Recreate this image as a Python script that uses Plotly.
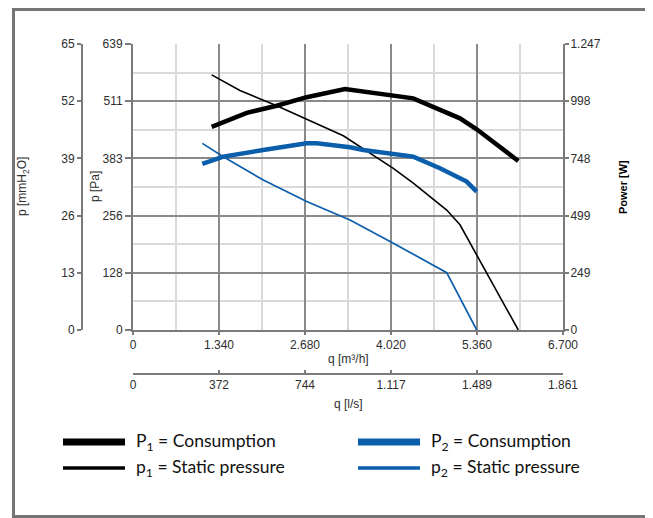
import plotly.graph_objects as go

# ---------------- data ----------------
# airflow q in m3/h
q_P1 = [1226, 1772, 2239, 2706, 3303, 4367, 5095, 5355, 6003]
power_P1 = [886, 947, 978, 1015, 1051, 1010, 923, 875, 737]          # W

q_p1 = [1226, 1667, 2239, 2706, 3277, 4056, 4367, 4888, 5095, 6003]
pressure_p1 = [570, 535, 501, 471, 434, 361, 328, 268, 235, 0]        # Pa

q_P2 = [1080, 1407, 2030, 2706, 2862, 3381, 3588, 4367, 4783, 5199, 5355]
power_P2 = [724, 756, 785, 814, 814, 797, 785, 756, 705, 647, 603]    # W

q_p2 = [1080, 1407, 2030, 2706, 3381, 4056, 4888, 5355]
pressure_p2 = [417, 387, 335, 287, 246, 194, 128, 0]                  # Pa

# axis ticks
q_m3h_max = 6700
q_m3h_ticks = [0, 1340, 2680, 4020, 5360, 6700]
q_m3h_text = ["0", "1.340", "2.680", "4.020", "5.360", "6.700"]
q_ls_max = 1861.1
q_ls_ticks = [0, 372.2, 744.4, 1116.7, 1488.9, 1861.1]
q_ls_text = ["0", "372", "744", "1.117", "1.489", "1.861"]
pa_max = 639
pa_ticks = [0, 127.8, 255.6, 383.4, 511.2, 639]
pa_text = ["0", "128", "256", "383", "511", "639"]
mm_max = 65
mm_ticks = [0, 13, 26, 39, 52, 65]
mm_text = ["0", "13", "26", "39", "52", "65"]
w_max = 1247
w_ticks = [0, 249.4, 498.8, 748.2, 997.6, 1247]
w_text = ["0", "249", "499", "748", "998", "1.247"]

# ---------------- layout geometry ----------------
# positions below are page pixels; the page body has an 8px margin
OFF = 8
FW, FH = 653 - OFF, 518 - OFF
L, R, T, B = 82 - OFF, 563 - OFF, 44 - OFF, 374 - OFF
PW, PH = R - L, B - T
X0 = 133 - OFF   # left edge of data area
Y0 = 330 - OFF   # bottom edge of data area


def fx(x):
    return (x - OFF - L) / PW


def fy(y):
    return (B - (y - OFF)) / PH


BLACK = "#000000"
BLUE = "#0b5eab"
AX = "#7a7a7a"
GRID_MAJ = "#8a8a8a"
GRID_MIN = "#dadada"
TXT = "#2e2e2e"
FONT = "Liberation Sans, Arial, sans-serif"

fig = go.Figure()
fig.add_trace(go.Scatter(x=q_p2, y=pressure_p2, mode="lines", xaxis="x", yaxis="y",
                         line=dict(color=BLUE, width=1.7), showlegend=False))
fig.add_trace(go.Scatter(x=q_p1, y=pressure_p1, mode="lines", xaxis="x", yaxis="y",
                         line=dict(color=BLACK, width=1.6), showlegend=False))
fig.add_trace(go.Scatter(x=q_P2, y=power_P2, mode="lines", xaxis="x", yaxis="y3",
                         line=dict(color=BLUE, width=4.5), showlegend=False))
fig.add_trace(go.Scatter(x=q_P1, y=power_P1, mode="lines", xaxis="x", yaxis="y3",
                         line=dict(color=BLACK, width=4.5), showlegend=False))
# carriers for the secondary scales
fig.add_trace(go.Scatter(x=[None], y=[None], xaxis="x2", yaxis="y", showlegend=False, hoverinfo="skip"))
fig.add_trace(go.Scatter(x=[None], y=[None], xaxis="x", yaxis="y2", showlegend=False, hoverinfo="skip"))

xdom = [(X0 - L) / PW, 1]
ydom = [(B - Y0) / PH, 1]
tickfont = dict(family=FONT, size=12, color=TXT)

common = dict(showline=True, linecolor=AX, linewidth=2, ticks="outside", ticklen=4,
              tickwidth=2, tickcolor=AX, zeroline=False, tickfont=tickfont, fixedrange=True)

fig.update_layout(
    width=FW, height=FH,
    margin=dict(l=L, r=FW - R, t=T, b=FH - B, pad=0),
    paper_bgcolor="white", plot_bgcolor="white",
    font=dict(family=FONT, size=11, color=TXT),
    showlegend=False,
    xaxis=dict(domain=xdom, anchor="y", range=[0, q_m3h_max], tickmode="array",
               tickvals=q_m3h_ticks, ticktext=q_m3h_text,
               showgrid=True, gridcolor=GRID_MAJ, gridwidth=1.5,
               minor=dict(tickvals=[670, 2010, 3350, 4690, 6030], showgrid=True,
                          gridcolor=GRID_MIN, gridwidth=1.5, ticks=""),
               **{**common, "ticklen": 3}),
    xaxis2=dict(domain=xdom, overlaying="x", anchor="free", position=0, side="bottom",
                range=[0, q_ls_max], tickmode="array", tickvals=q_ls_ticks, ticktext=q_ls_text,
                showgrid=False, **{**common, "ticks": "inside", "ticklen": 3}),
    yaxis=dict(domain=ydom, anchor="x", range=[0, pa_max], tickmode="array",
               tickvals=pa_ticks, ticktext=pa_text,
               showgrid=True, gridcolor=GRID_MAJ, gridwidth=1.5,
               minor=dict(tickvals=[63.9, 191.7, 319.5, 447.3, 575.1], showgrid=True,
                          gridcolor=GRID_MIN, gridwidth=1.5, ticks=""),
               **{**common, "ticklen": 6}),
    yaxis2=dict(overlaying="y", anchor="free", position=0, side="left",
                range=[0, mm_max], tickmode="array", tickvals=mm_ticks, ticktext=mm_text,
                showgrid=False, **common),
    yaxis3=dict(overlaying="y", anchor="x", side="right",
                range=[0, w_max], tickmode="array", tickvals=w_ticks, ticktext=w_text,
                showgrid=False, ticklabelstandoff=-1, **common),
)

ann = []


def text(x, y, s, size=11, angle=0, xanchor="center", color=TXT, family=FONT):
    ann.append(dict(x=fx(x), y=fy(y), xref="paper", yref="paper", text=s, showarrow=False,
                    textangle=angle, xanchor=xanchor, yanchor="middle",
                    font=dict(family=family, size=size, color=color)))


text(348, 359, "q [m³/h]", size=12)
text(348, 404, "q [l/s]", size=12)
text(23, 187, "p [mmH<sub>2</sub>O]", size=12, angle=-90)
text(95, 187, "p [Pa]", size=12, angle=-90)
text(623, 187, "<b>Power [W]</b>", size=11, angle=-90, color="#000")

LEGF = "Lato, Open Sans, sans-serif"
text(134, 442, "P<sub>1</sub> = Consumption", size=17.5, xanchor="left", color="#111", family=LEGF)
text(134, 468, "p<sub>1</sub> = Static pressure", size=17.5, xanchor="left", color="#111", family=LEGF)
text(429, 442, "P<sub>2</sub> = Consumption", size=17.5, xanchor="left", color="#111", family=LEGF)
text(429, 468, "p<sub>2</sub> = Static pressure", size=17.5, xanchor="left", color="#111", family=LEGF)

shapes = []


def hline(x0, x1, y, color, w):
    shapes.append(dict(type="line", xref="paper", yref="paper", x0=fx(x0), x1=fx(x1),
                       y0=fy(y), y1=fy(y), line=dict(color=color, width=w)))


hline(63, 125, 442, BLACK, 7)
hline(63, 125, 468, BLACK, 3.5)
hline(358, 420, 442, BLUE, 7)
hline(358, 420, 468, BLUE, 3.5)
# outer frame (top edge kept just inside the figure)
shapes.append(dict(type="rect", xref="paper", yref="paper", x0=fx(13.5), x1=fx(647),
                   y0=fy(516.5), y1=fy(OFF + 1.5), line=dict(color="#757575", width=3)))

fig.update_layout(annotations=ann, shapes=shapes)
fig.write_html("out.html")
